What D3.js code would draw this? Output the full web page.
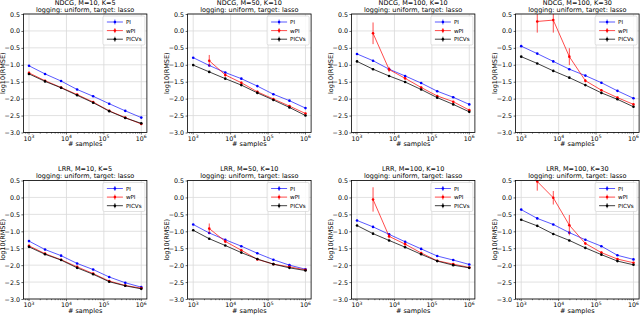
<!DOCTYPE html>
<html>
<head>
<meta charset="utf-8">
<script src="https://cdn.jsdelivr.net/npm/d3@7"></script>
<style>
body { margin: 0; background: #fff; }
text { font-family: "DejaVu Sans", sans-serif; fill: #000; }
</style>
</head>
<body>
<svg id="fig" width="640" height="315"></svg>
<script>
// x positions shared by every panel (logspace 1e3..1e6, 8 points)
const samples = [1000, 2683, 7197, 19307, 51795, 138950, 372759, 1000000];
const xTicks = [1e3, 1e4, 1e5, 1e6];
const yTicks = [0.5, 0.0, -0.5, -1.0, -1.5, -2.0, -2.5, -3.0];
const seriesNames = ["PI", "wPI", "PICVs"];

// NDCG row
const ndcgM10_pi   = [-1.03, -1.27, -1.48, -1.73, -1.93, -2.15, -2.36, -2.56];
const ndcgM10_wpi  = [-1.24, -1.47, -1.67, -1.88, -2.10, -2.36, -2.56, -2.75];
const ndcgM10_picv = [-1.27, -1.49, -1.68, -1.90, -2.12, -2.37, -2.57, -2.73];
const ndcgM10_err  = [0.02, 0.02, 0.02, 0.02, 0.02, 0.02, 0.02, 0.02];

const ndcgM50_pi   = [-0.79, -1.02, -1.23, -1.41, -1.63, -1.87, -2.06, -2.28];
const ndcgM50_wpi  = [null, -0.88, -1.30, -1.53, -1.80, -2.01, -2.22, -2.44];
const ndcgM50_picv = [-1.01, -1.21, -1.41, -1.60, -1.83, -2.04, -2.26, -2.50];
const ndcgM50_err  = [0, 0.17, 0.05, 0.03, 0.03, 0.02, 0.02, 0.02];

const ndcgM100_pi   = [-0.68, -0.88, -1.13, -1.33, -1.54, -1.78, -1.96, -2.17];
const ndcgM100_wpi  = [null, -0.07, -1.14, -1.40, -1.67, -1.92, -2.09, -2.34];
const ndcgM100_picv = [-0.90, -1.13, -1.33, -1.51, -1.73, -1.97, -2.17, -2.39];
const ndcgM100_err  = [0, 0.32, 0.08, 0.04, 0.03, 0.02, 0.02, 0.02];

const ndcgK30_pi   = [-0.45, -0.67, -0.90, -1.13, -1.32, -1.53, -1.77, -1.99];
const ndcgK30_wpi  = [null, 0.28, 0.32, -0.76, -1.47, -1.75, -1.97, -2.17];
const ndcgK30_picv = [-0.76, -0.96, -1.18, -1.38, -1.60, -1.83, -2.02, -2.24];
const ndcgK30_err  = [0, 0.33, 0.37, 0.25, 0.05, 0.03, 0.02, 0.02];

// LRR row
const lrrM10_pi   = [-1.29, -1.54, -1.72, -1.95, -2.13, -2.35, -2.52, -2.65];
const lrrM10_wpi  = [-1.43, -1.66, -1.84, -2.05, -2.25, -2.47, -2.60, -2.68];
const lrrM10_picv = [-1.46, -1.68, -1.85, -2.08, -2.27, -2.49, -2.61, -2.70];
const lrrM10_err  = [0.02, 0.02, 0.02, 0.02, 0.02, 0.02, 0.02, 0.02];

const lrrM50_pi   = [-0.80, -1.05, -1.25, -1.44, -1.65, -1.84, -2.00, -2.12];
const lrrM50_wpi  = [null, -0.92, -1.30, -1.56, -1.83, -1.97, -2.05, -2.14];
const lrrM50_picv = [-0.97, -1.22, -1.42, -1.63, -1.82, -1.97, -2.08, -2.16];
const lrrM50_err  = [0, 0.15, 0.05, 0.03, 0.02, 0.02, 0.02, 0.02];

const lrrM100_pi   = [-0.68, -0.87, -1.09, -1.31, -1.52, -1.73, -1.85, -1.98];
const lrrM100_wpi  = [null, -0.06, -1.15, -1.38, -1.64, -1.87, -1.97, -2.07];
const lrrM100_picv = [-0.83, -1.07, -1.27, -1.47, -1.68, -1.88, -2.00, -2.08];
const lrrM100_err  = [0, 0.36, 0.06, 0.04, 0.03, 0.02, 0.02, 0.02];

const lrrK30_pi   = [-0.36, -0.62, -0.80, -1.04, -1.25, -1.44, -1.71, -1.83];
const lrrK30_wpi  = [null, 0.47, -0.01, -0.82, -1.36, -1.63, -1.82, -1.93];
const lrrK30_picv = [-0.66, -0.84, -1.08, -1.27, -1.49, -1.69, -1.88, -1.99];
const lrrK30_err  = [0, 0.27, 0.20, 0.30, 0.04, 0.03, 0.02, 0.02];

const panels = [
  {t: "NDCG, M=10, K=5",   s: [ndcgM10_pi, ndcgM10_wpi, ndcgM10_picv], e: ndcgM10_err},
  {t: "NDCG, M=50, K=10",  s: [ndcgM50_pi, ndcgM50_wpi, ndcgM50_picv], e: ndcgM50_err},
  {t: "NDCG, M=100, K=10", s: [ndcgM100_pi, ndcgM100_wpi, ndcgM100_picv], e: ndcgM100_err},
  {t: "NDCG, M=100, K=30", s: [ndcgK30_pi, ndcgK30_wpi, ndcgK30_picv], e: ndcgK30_err},
  {t: "LRR, M=10, K=5",    s: [lrrM10_pi, lrrM10_wpi, lrrM10_picv], e: lrrM10_err},
  {t: "LRR, M=50, K=10",   s: [lrrM50_pi, lrrM50_wpi, lrrM50_picv], e: lrrM50_err},
  {t: "LRR, M=100, K=10",  s: [lrrM100_pi, lrrM100_wpi, lrrM100_picv], e: lrrM100_err},
  {t: "LRR, M=100, K=30",  s: [lrrK30_pi, lrrK30_wpi, lrrK30_picv], e: lrrK30_err}
];

const lineColors = ["rgba(0,0,255,0.65)", "rgba(255,0,0,0.7)", "rgba(0,0,0,0.75)"];
const dotColors = ["#0000ff", "#ff0000", "#000000"];

const pw = 123.5, ph = 118.5;
const lefts = [23.4, 187.6, 351.4, 515.6];
const tops = [14, 180.5];

const svg = d3.select("#fig");
const fmtY = d => (d < 0 ? "\u2212" : "") + Math.abs(d).toFixed(1);

panels.forEach(function(p, i) {
  const col = i % 4, row = Math.floor(i / 4);
  const g = svg.append("g").attr("transform", "translate(" + lefts[col] + "," + tops[row] + ")");

  const x = d3.scaleLog().domain([Math.pow(10, 2.85), Math.pow(10, 6.15)]).range([0, pw]);
  const y = d3.scaleLinear().domain([-3.0, 0.5]).range([ph, 0]);

  // grid
  g.selectAll(".gx").data(xTicks).enter().append("line")
    .attr("x1", d => x(d)).attr("x2", d => x(d)).attr("y1", 0).attr("y2", ph)
    .style("stroke", "#d9d9d9").style("stroke-width", 0.8);
  g.selectAll(".gy").data(yTicks).enter().append("line")
    .attr("x1", 0).attr("x2", pw).attr("y1", d => y(d)).attr("y2", d => y(d))
    .style("stroke", "#d9d9d9").style("stroke-width", 0.8);

  const clipId = "clip" + i;
  g.append("clipPath").attr("id", clipId).append("rect")
    .attr("width", pw).attr("height", ph);
  const plot = g.append("g").attr("clip-path", "url(#" + clipId + ")");

  p.s.forEach(function(vals, k) {
    const pts = vals.map((v, j) => ({x: samples[j], v: v, e: k === 1 ? p.e[j] : 0.015}))
      .filter(d => d.v !== null);
    const line = d3.line().x(d => x(d.x)).y(d => y(d.v));
    plot.append("path").datum(pts).attr("d", line)
      .style("fill", "none").style("stroke", lineColors[k]).style("stroke-width", 1);
    plot.selectAll(".eb" + k).data(pts).enter().append("line")
      .attr("x1", d => x(d.x)).attr("x2", d => x(d.x))
      .attr("y1", d => y(d.v + d.e)).attr("y2", d => y(d.v - d.e))
      .style("stroke", lineColors[k]).style("stroke-width", 1);
    plot.selectAll(".pt" + k).data(pts).enter().append("circle")
      .attr("cx", d => x(d.x)).attr("cy", d => y(d.v)).attr("r", 1.3)
      .style("fill", dotColors[k]);
  });

  // spines
  g.append("rect").attr("width", pw).attr("height", ph)
    .style("fill", "none").style("stroke", "#000").style("stroke-width", 0.8);

  // y axis
  const ya = g.append("g").call(d3.axisLeft(y).tickValues(yTicks).tickFormat(fmtY).tickSize(2).tickPadding(1.5));
  ya.select(".domain").remove();
  ya.selectAll("text").style("font-size", "6.3px").style("font-family", "DejaVu Sans");
  ya.selectAll("line").style("stroke-width", 0.6);

  // x axis: major ticks with superscript labels, plus minor log ticks
  const xa = g.append("g").attr("transform", "translate(0," + ph + ")");
  const minors = [];
  for (let dec = 2; dec <= 6; dec++) for (let m = 2; m <= 9; m++) {
    const v = m * Math.pow(10, dec);
    if (v > x.domain()[0] && v < x.domain()[1]) minors.push(v);
  }
  xa.selectAll(".mn").data(minors).enter().append("line")
    .attr("x1", d => x(d)).attr("x2", d => x(d)).attr("y1", 0).attr("y2", 1.2)
    .style("stroke", "#000").style("stroke-width", 0.5);
  xa.selectAll(".mj").data(xTicks).enter().append("line")
    .attr("x1", d => x(d)).attr("x2", d => x(d)).attr("y1", 0).attr("y2", 2)
    .style("stroke", "#000").style("stroke-width", 0.6);
  const xl = xa.selectAll(".xl").data(xTicks).enter().append("text")
    .attr("x", d => x(d)).attr("y", 8).attr("text-anchor", "middle")
    .style("font-size", "6.3px");
  xl.append("tspan").text("10");
  xl.append("tspan").attr("dy", -2.5).style("font-size", "4.5px")
    .text(d => Math.round(Math.log10(d)));

  // labels
  g.append("text").attr("x", pw / 2).attr("y", ph + 13.5).attr("text-anchor", "middle")
    .style("font-size", "6.5px").text("# samples");
  g.append("text").attr("transform", "translate(-18.5," + (ph / 2) + ") rotate(-90)")
    .attr("text-anchor", "middle").style("font-size", "6.5px").text("log10(RMSE)");
  g.append("text").attr("x", pw / 2).attr("y", -9.5).attr("text-anchor", "middle")
    .style("font-size", "6.5px").text(p.t);
  g.append("text").attr("x", pw / 2).attr("y", -2.5).attr("text-anchor", "middle")
    .style("font-size", "6.5px").text("logging: uniform, target: lasso");

  // legend
  const lg = g.append("g").attr("transform", "translate(" + (pw - 44) + ",2)");
  lg.append("rect").attr("width", 42).attr("height", 29).attr("rx", 1.5)
    .style("fill", "rgba(255,255,255,0.85)").style("stroke", "#ccc").style("stroke-width", 0.6);
  seriesNames.forEach(function(n, k) {
    const yy = 6 + k * 8.6;
    lg.append("line").attr("x1", 4).attr("x2", 20).attr("y1", yy).attr("y2", yy)
      .style("stroke", lineColors[k]).style("stroke-width", 1);
    lg.append("line").attr("x1", 12).attr("x2", 12).attr("y1", yy - 2.5).attr("y2", yy + 2.5)
      .style("stroke", lineColors[k]).style("stroke-width", 1);
    lg.append("circle").attr("cx", 12).attr("cy", yy).attr("r", 1.3).style("fill", dotColors[k]);
    lg.append("text").attr("x", 23).attr("y", yy + 2).style("font-size", "5.6px").text(n);
  });
});
</script>
</body>
</html>
